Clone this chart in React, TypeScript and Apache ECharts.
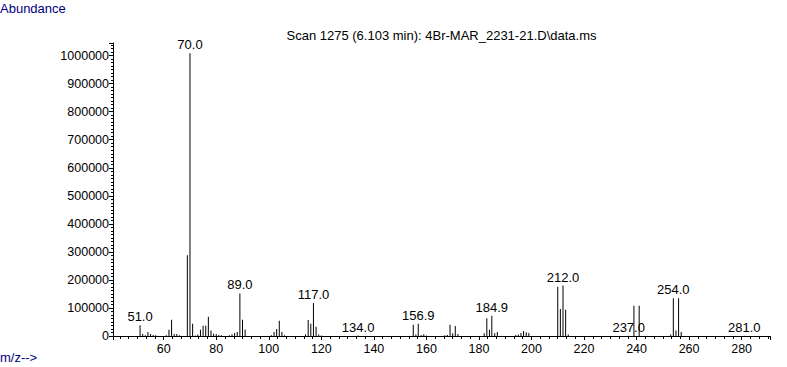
import React, { useEffect, useRef } from 'react';
import * as echarts from 'echarts';

const mzValues = [
  51, 52, 53, 54, 55, 56, 57, 61, 62, 63, 64, 65, 66, 69, 70, 71, 72, 73, 74, 75, 76, 77, 78, 79, 80, 81, 82,
  85, 86, 87, 88, 89, 90, 91, 101, 102, 103, 104, 105, 106, 114, 115, 116, 117, 118, 119, 120, 134,
  155, 156, 156.9, 158, 159, 160, 167, 168, 169, 170, 171, 172, 182, 183, 184, 184.9, 186, 187,
  194, 195, 196, 197, 198, 199, 210, 211, 212, 213, 214, 237, 239, 241, 253, 254, 255, 256, 257, 281,
];
const abundances = [
  38000, 7000, 3000, 14000, 7000, 4000, 2500, 3000, 22000, 58000, 7000, 7000, 3000, 288000, 1008000, 44000, 2000, 5000, 22000, 37000, 37000, 69000, 20000, 8000, 7000, 4000, 3000,
  3000, 6000, 11000, 14000, 152000, 58000, 23000, 3000, 14000, 25000, 54000, 14000, 3000, 6000, 57000, 44000, 118000, 33000, 5000, 2000, 1500,
  40000, 5000, 44000, 4000, 6000, 2000, 3000, 4000, 40000, 10000, 36000, 7000, 10000, 63000, 22000, 72000, 10000, 14000,
  4000, 5000, 11000, 18000, 13000, 11000, 176000, 96000, 180000, 94000, 5000, 1000, 108000, 108000, 5000, 135000, 20000, 135000, 14000, 1000,
];
const labeledMz = [51, 70, 89, 117, 134, 156.9, 184.9, 212, 237, 254, 281];
const titleText = 'Scan 1275 (6.103 min): 4Br-MAR_2231-21.D\\data.ms';
const yAxisName = 'Abundance';
const xAxisName = 'm/z-->';

export default function App() {
  const ref = useRef<HTMLDivElement>(null);
  useEffect(() => {
    const chart = echarts.init(ref.current!, null, { renderer: 'svg' });
    const font = "'Liberation Sans', Arial, sans-serif";
    const data = mzValues.map((m, i) => {
      const item: any = { value: [m, abundances[i]] };
      if (labeledMz.includes(m)) {
        item.label = { show: true, formatter: m.toFixed(1) };
      }
      return item;
    });
    chart.setOption({
      animation: false,
      backgroundColor: '#fff',
      grid: { left: 113, right: 17, top: 43, bottom: 31, containLabel: false },
      xAxis: {
        type: 'value',
        min: 40.7,
        max: 290.8,
        splitNumber: 12,
        axisLine: { show: true, lineStyle: { color: '#000', width: 1 } },
        axisTick: { show: true, length: 4, lineStyle: { color: '#000' } },
        minorTick: { show: true, splitNumber: 6, length: 3, lineStyle: { color: '#000' } },
        axisLabel: {
          formatter: (v: number) => (Math.abs(v % 20) < 1e-6 ? String(v) : ''),
          color: '#000',
          fontSize: 12.5,
          fontFamily: font,
          margin: 6,
        },
        splitLine: { show: false },
      },
      yAxis: {
        type: 'value',
        min: 0,
        max: 1045000,
        interval: 100000,
        axisLine: { show: true, lineStyle: { color: '#000', width: 1 } },
        axisTick: { show: true, length: 4, lineStyle: { color: '#000' } },
        minorTick: { show: true, splitNumber: 8, length: 2, lineStyle: { color: '#000' } },
        axisLabel: {
          formatter: (v: number) => (v % 100000 === 0 ? String(v) : ''),
          color: '#000',
          fontSize: 12.5,
          fontFamily: font,
          margin: 4,
        },
        splitLine: { show: false },
      },
      series: [
        {
          type: 'bar',
          barWidth: 1,
          itemStyle: { color: '#000' },
          label: {
            show: false,
            position: 'top',
            distance: 2,
            color: '#000',
            fontSize: 13,
            fontFamily: font,
          },
          data,
        },
      ],
      graphic: [
        {
          type: 'text',
          left: 0,
          top: 2,
          style: { text: yAxisName, fill: '#000080', font: `13px ${font}` },
        },
        {
          type: 'text',
          left: 0,
          top: 351,
          style: { text: xAxisName, fill: '#000080', font: `13px ${font}` },
        },
        {
          type: 'text',
          x: 441.5,
          y: 35,
          style: { text: titleText, fill: '#000', font: `13px ${font}`, textAlign: 'center', textVerticalAlign: 'middle' },
        },
      ],
    });
    return () => chart.dispose();
  }, []);
  return <div ref={ref} style={{ position: 'absolute', left: 0, top: 0, width: 787, height: 367 }} />;
}
